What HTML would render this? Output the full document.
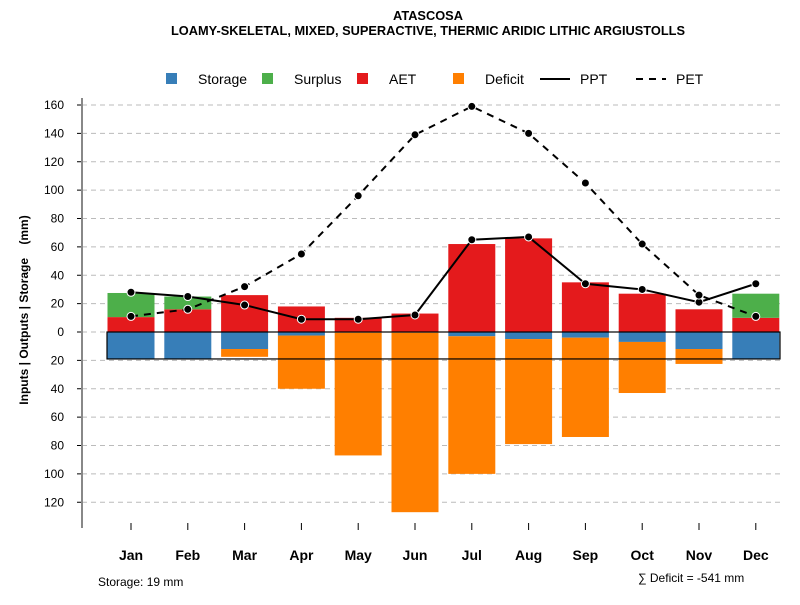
<!DOCTYPE html>
<html><head><meta charset="utf-8"><style>
body{margin:0;background:#fff}
svg{font-family:"Liberation Sans",sans-serif}
</style></head><body>
<svg id="c" width="800" height="600" viewBox="0 0 800 600">
<text x="428" y="20" text-anchor="middle" font-size="12.8" font-weight="bold">ATASCOSA</text>
<text x="428" y="35" text-anchor="middle" font-size="12.8" font-weight="bold">LOAMY-SKELETAL, MIXED, SUPERACTIVE, THERMIC ARIDIC LITHIC ARGIUSTOLLS</text>
<g id="legend">
<rect x="166" y="73" width="11" height="11" fill="#377eb8"/>
<text x="198" y="84" font-size="14">Storage</text>
<rect x="262" y="73" width="11" height="11" fill="#4daf4a"/>
<text x="294" y="84" font-size="14">Surplus</text>
<rect x="357" y="73" width="11" height="11" fill="#e41a1c"/>
<text x="389" y="84" font-size="14">AET</text>
<rect x="453" y="73" width="11" height="11" fill="#ff7f00"/>
<text x="485" y="84" font-size="14">Deficit</text>
<line x1="540" y1="79" x2="570" y2="79" stroke="#000" stroke-width="2"/>
<text x="580" y="84" font-size="14">PPT</text>
<line x1="636" y1="79" x2="666" y2="79" stroke="#000" stroke-width="2" stroke-dasharray="7,6"/>
<text x="676" y="84" font-size="14">PET</text>
</g>
<text transform="translate(28,310) rotate(-90)" text-anchor="middle" font-size="12" font-weight="bold" style="white-space:pre">Inputs | Outputs | Storage    (mm)</text>
<text x="98" y="586" font-size="12">Storage: 19 mm</text>
<text x="638" y="582" font-size="12">∑ Deficit = -541 mm</text>
<g id="plot"></g>
</svg>
<script>
const months=["Jan","Feb","Mar","Apr","May","Jun","Jul","Aug","Sep","Oct","Nov","Dec"];
const storage=[19,19,12,2.5,0.5,0.5,3,5,4,7,12,19];
const deficit=[0,0,5.5,37.5,86.5,126.5,97,74,70,36,10.5,0];
const aet=[10.5,16,26,18,10,13,62,66,35,27,16,10];
const surplus=[17,9,0,0,0,0,0,0,0,0,0,17];
const ppt=[28,25,19,9,9,12,65,67,34,30,21,34];
const pet=[11,16,32,55,96,139,159,140,105,62,26,11];
const yTicks=[160,140,120,100,80,60,40,20,0,-20,-40,-60,-80,-100,-120];
const storageCap=19;
const NS="http://www.w3.org/2000/svg";
const g=document.getElementById("plot");
const y=v=>332-v*227/160;
const x=i=>131+i*56.8;
const bw=47;
function mk(t,a){const e=document.createElementNS(NS,t);for(const k in a)e.setAttribute(k,a[k]);g.appendChild(e);return e;}
yTicks.forEach(t=>{
 const l=mk("line",{x1:82,x2:780,y1:y(t),y2:y(t),stroke:"#bbb","stroke-dasharray":"5,4"});
 
 
 const tk=mk("line",{x1:77,x2:82,y1:y(t),y2:y(t),stroke:"#000"});
 
 
 const tx=mk("text",{x:64,y:y(t)+4,"text-anchor":"end","font-size":12});
 tx.textContent=Math.abs(t);
 
 
});
const ax=mk("line",{x1:82,x2:82,y1:98,y2:528,stroke:"#888","stroke-width":2});


months.forEach((m,i)=>{
 const cx=x(i);
 function bar(v0,v1,col,name){
  const r=mk("rect",{x:cx-bw/2,y:Math.min(y(v0),y(v1)),width:bw,height:Math.abs(y(v0)-y(v1)),fill:col});
  
  
 }
 bar(0,-storage[i],"#377eb8","bar-storage-"+m.toLowerCase());
 bar(-storage[i],-storage[i]-deficit[i],"#ff7f00","bar-deficit-"+m.toLowerCase());
 bar(0,aet[i],"#e41a1c","bar-aet-"+m.toLowerCase());
 bar(aet[i],aet[i]+surplus[i],"#4daf4a","bar-surplus-"+m.toLowerCase());
 const tk=mk("line",{x1:cx,x2:cx,y1:523,y2:530,stroke:"#000"});
 
 
 const t=mk("text",{x:cx,y:560,"text-anchor":"middle","font-size":14,"font-weight":"bold"});
 t.textContent=m;
 
 
});
const box=mk("rect",{x:107,y:y(0),width:673,height:y(-storageCap)-y(0),fill:"none",stroke:"#000","stroke-width":1.2});


function line(arr,dash,name){
 const p=mk("polyline",{points:arr.map((v,i)=>x(i)+","+y(v)).join(" "),fill:"none",stroke:"#000","stroke-width":2,"stroke-dasharray":dash});
 
 
 arr.forEach((v,i)=>{
  const c=mk("circle",{cx:x(i),cy:y(v),r:4,fill:"#000",stroke:"#fff","stroke-width":1});
  
  
 });
}
line(ppt,"none","ppt");
line(pet,"7,6","pet");
</script>
</body></html>
